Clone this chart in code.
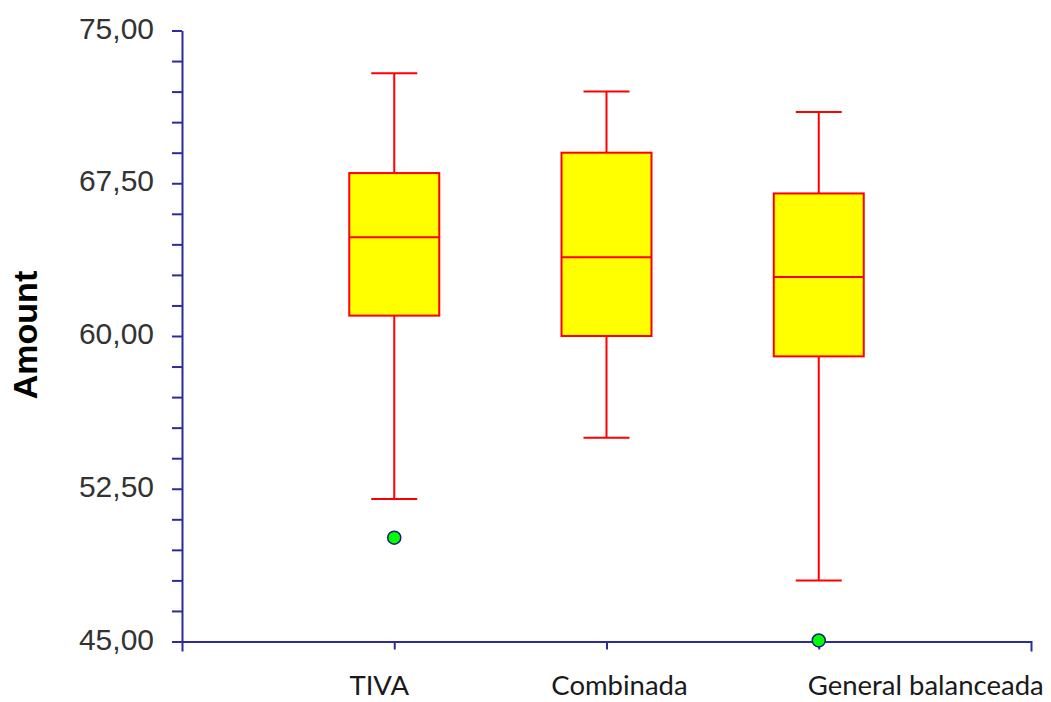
<!DOCTYPE html>
<html>
<head>
<meta charset="utf-8">
<script src="https://cdn.jsdelivr.net/npm/d3@7"></script>
<style>
  body { margin: 0; background: #fff; }
</style>
</head>
<body>
<div id="chart"></div>
<script>
// Data
const categories = ["TIVA", "Combinada", "General balanceada"];
const whiskerHigh = [72.9, 72.0, 71.0];
const q3 = [68.0, 69.0, 67.0];
const median = [64.85, 63.87, 62.9];
const q1 = [61.0, 60.0, 59.0];
const whiskerLow = [52.0, 55.0, 48.0];
const outliers = [
  { cat: 0, value: 50.1 },
  { cat: 2, value: 45.05 },
];
const majorTicks = [45, 52.5, 60, 67.5, 75];
const minorStep = 1.5;

// Dimensions
const dimensions = {
  width: 1051,
  height: 702,
  left: 182,
  right: 1031,
  top: 30.5,
  bottom: 641.5,
};

const axisColor = "#2b2b9e";

const svg = d3
  .select("#chart")
  .append("svg")
  .attr("width", dimensions.width)
  .attr("height", dimensions.height);

// Scales
const yScale = d3
  .scaleLinear()
  .domain([45, 75])
  .range([dimensions.bottom, dimensions.top]);

const xScale = d3
  .scaleLinear()
  .domain([0, 4])
  .range([dimensions.left, dimensions.right]);

// Axes
const allTicks = d3.range(45, 75 + 0.001, minorStep);
const fmt = (d) => d.toFixed(2).replace(".", ",");

const yAxis = d3
  .axisLeft(yScale)
  .tickValues(allTicks)
  .tickSize(10)
  .tickSizeOuter(0)
  .tickPadding(18)
  .tickFormat((d) => (majorTicks.some((m) => Math.abs(m - d) < 1e-6) ? fmt(d) : ""));

const yAxisGroup = svg
  .append("g")
  .attr("transform", `translate(${dimensions.left},0)`)
  .call(yAxis);

yAxisGroup.selectAll("path, line").attr("stroke", axisColor).attr("stroke-width", 2);
yAxisGroup
  .selectAll("text")
  .attr("dy", "0.25em")
  .attr("fill", "#333")
  .style("font-family", "'Liberation Sans', Arial, sans-serif")
  .style("font-size", "30px");

const xAxis = d3
  .axisBottom(xScale)
  .tickValues([1, 2, 3])
  .tickSize(8)
  .tickSizeOuter(10)
  .tickFormat("");

const xAxisGroup = svg
  .append("g")
  .attr("transform", `translate(0,${dimensions.bottom})`)
  .call(xAxis);

xAxisGroup.selectAll("path, line").attr("stroke", axisColor).attr("stroke-width", 2);

// Category labels (offsets follow the reference's uneven placement)
const labelShift = [-15, 13, 107];
svg
  .append("g")
  .selectAll("text")
  .data(categories)
  .join("text")
  .attr("x", (d, i) => xScale(i + 1) + labelShift[i])
  .attr("y", 695)
  .attr("text-anchor", "middle")
  .attr("fill", "#1a1a1a")
  .style("font-family", "Lato, 'Open Sans', sans-serif")
  .style("font-size", "27.5px")
  .text((d) => d);

// Y title
svg
  .append("text")
  .attr("transform", `translate(37,335) rotate(-90)`)
  .attr("text-anchor", "middle")
  .attr("fill", "#000")
  .style("font-family", "'Liberation Sans', Arial, sans-serif")
  .style("font-weight", "bold")
  .style("font-size", "34px")
  .text("Amount");

// Boxes
const boxWidth = 90;
const capWidth = 46;
const red = "#ff0000";

const boxes = svg
  .append("g")
  .selectAll("g")
  .data(categories)
  .join("g");

boxes
  .append("line")
  .attr("x1", (d, i) => xScale(i + 1))
  .attr("x2", (d, i) => xScale(i + 1))
  .attr("y1", (d, i) => yScale(whiskerHigh[i]))
  .attr("y2", (d, i) => yScale(whiskerLow[i]))
  .attr("stroke", red)
  .attr("stroke-width", 2);

boxes
  .append("line")
  .attr("x1", (d, i) => xScale(i + 1) - capWidth / 2)
  .attr("x2", (d, i) => xScale(i + 1) + capWidth / 2)
  .attr("y1", (d, i) => yScale(whiskerHigh[i]))
  .attr("y2", (d, i) => yScale(whiskerHigh[i]))
  .attr("stroke", red)
  .attr("stroke-width", 2);

boxes
  .append("line")
  .attr("x1", (d, i) => xScale(i + 1) - capWidth / 2)
  .attr("x2", (d, i) => xScale(i + 1) + capWidth / 2)
  .attr("y1", (d, i) => yScale(whiskerLow[i]))
  .attr("y2", (d, i) => yScale(whiskerLow[i]))
  .attr("stroke", red)
  .attr("stroke-width", 2);

boxes
  .append("rect")
  .attr("x", (d, i) => xScale(i + 1) - boxWidth / 2)
  .attr("width", boxWidth)
  .attr("y", (d, i) => yScale(q3[i]))
  .attr("height", (d, i) => yScale(q1[i]) - yScale(q3[i]))
  .attr("fill", "#ffff00")
  .attr("stroke", red)
  .attr("stroke-width", 2);

boxes
  .append("line")
  .attr("x1", (d, i) => xScale(i + 1) - boxWidth / 2)
  .attr("x2", (d, i) => xScale(i + 1) + boxWidth / 2)
  .attr("y1", (d, i) => yScale(median[i]))
  .attr("y2", (d, i) => yScale(median[i]))
  .attr("stroke", red)
  .attr("stroke-width", 2);

// Outliers
svg
  .append("g")
  .selectAll("circle")
  .data(outliers)
  .join("circle")
  .attr("cx", (d) => xScale(d.cat + 1))
  .attr("cy", (d) => yScale(d.value))
  .attr("r", 6.5)
  .attr("fill", "#00ff00")
  .attr("stroke", "#1a1a80")
  .attr("stroke-width", 1.5);
</script>
</body>
</html>
